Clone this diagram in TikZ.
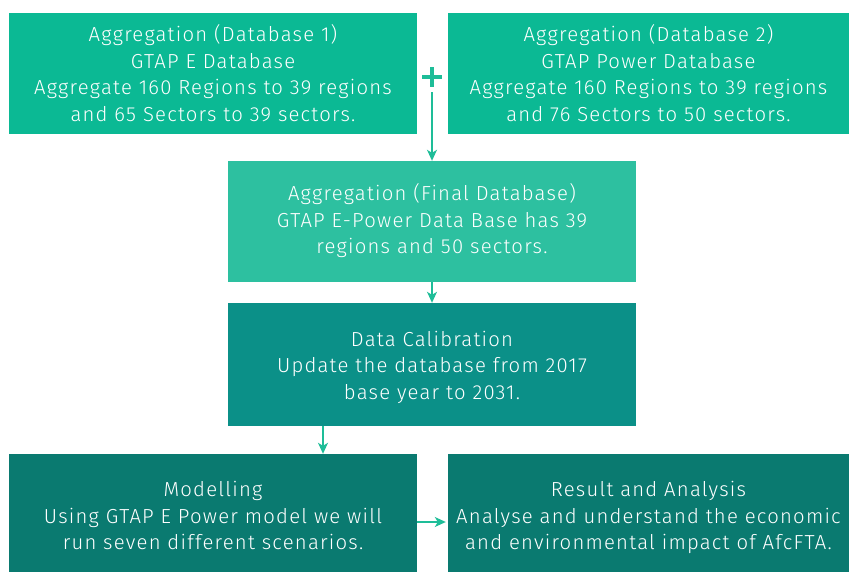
\documentclass[tikz,border=0pt]{standalone}
\usepackage{fontspec}
\setmainfont{Fira Sans}[UprightFont=* Light, LetterSpace=6]
\usetikzlibrary{arrows.meta}
\definecolor{boxtop}{HTML}{0BB994}
\definecolor{boxmid}{HTML}{2DC0A0}
\definecolor{boxcal}{HTML}{0B9088}
\definecolor{boxlow}{HTML}{0A7A70}
\definecolor{arrowc}{HTML}{1EBD98}
% centred block of lines, lowered by #1 without changing its size
\newcommand\stagetext[2]{\raisebox{-#1}[\height][\depth]{\begin{tabular}{@{}c@{}}#2\end{tabular}}}
\tikzset{
  stage/.style={rectangle, inner sep=0pt, text=white,
    font=\fontsize{20.3}{26.5}\selectfont},
  link/.style={draw=arrowc, line width=1.4pt,
    -{Stealth[length=11pt,width=10pt,inset=3pt]}},
}
\begin{document}
\begin{tikzpicture}[x=1pt,y=-1pt]
\useasboundingbox (0,0) rectangle (849,572);
\node[stage, fill=boxtop, minimum width=408pt, minimum height=121pt] (db1) at (213,73.5)
  {\stagetext{2.7pt}{Aggregation (Database 1)\\GTAP E Database\\Aggregate 160 Regions to 39 regions\\and 65 Sectors to 39 sectors.}};
\node[stage, fill=boxtop, minimum width=401pt, minimum height=121pt] (db2) at (648.5,73.5)
  {\stagetext{2.7pt}{Aggregation (Database 2)\\GTAP Power Database\\Aggregate 160 Regions to 39 regions\\and 76 Sectors to 50 sectors.}};
\node[stage, fill=boxmid, minimum width=408pt, minimum height=121pt] (final) at (432,221.5)
  {\stagetext{0.7pt}{Aggregation (Final Database)\\GTAP E-Power Data Base has 39\\regions and 50 sectors.}};
\node[stage, fill=boxcal, minimum width=408pt, minimum height=123pt] (calib) at (432,364.5)
  {\stagetext{3pt}{Data Calibration\\Update the database from 2017\\base year to 2031.}};
\node[stage, fill=boxlow, minimum width=408pt, minimum height=118pt] (model) at (213,513)
  {\stagetext{5pt}{Modelling\\Using GTAP E Power model we will\\run seven different scenarios.}};
\node[stage, fill=boxlow, minimum width=401pt, minimum height=118pt] (result) at (648.5,513)
  {\stagetext{5pt}{Result and Analysis\\Analyse and understand the economic\\and environmental impact of AfcFTA.}};
% plus sign joining the two source databases
\node[inner sep=0pt, minimum size=19pt] (plus) at (432,77) {};
\draw[arrowc, line width=3.6pt] (plus.north) -- (plus.south) (plus.west) -- (plus.east);
\coordinate (calout) at (323,426);
\coordinate (modelin) at (417,522);
\draw[link] (plus.south) ++(0,5.5) -- (final.north);
\draw[link] (final.south) -- (calib.north);
\draw[link] (calout) -- (calout |- model.north);
\draw[link, shorten >=2pt] (modelin) -- (modelin -| result.west);
\end{tikzpicture}
\end{document}
